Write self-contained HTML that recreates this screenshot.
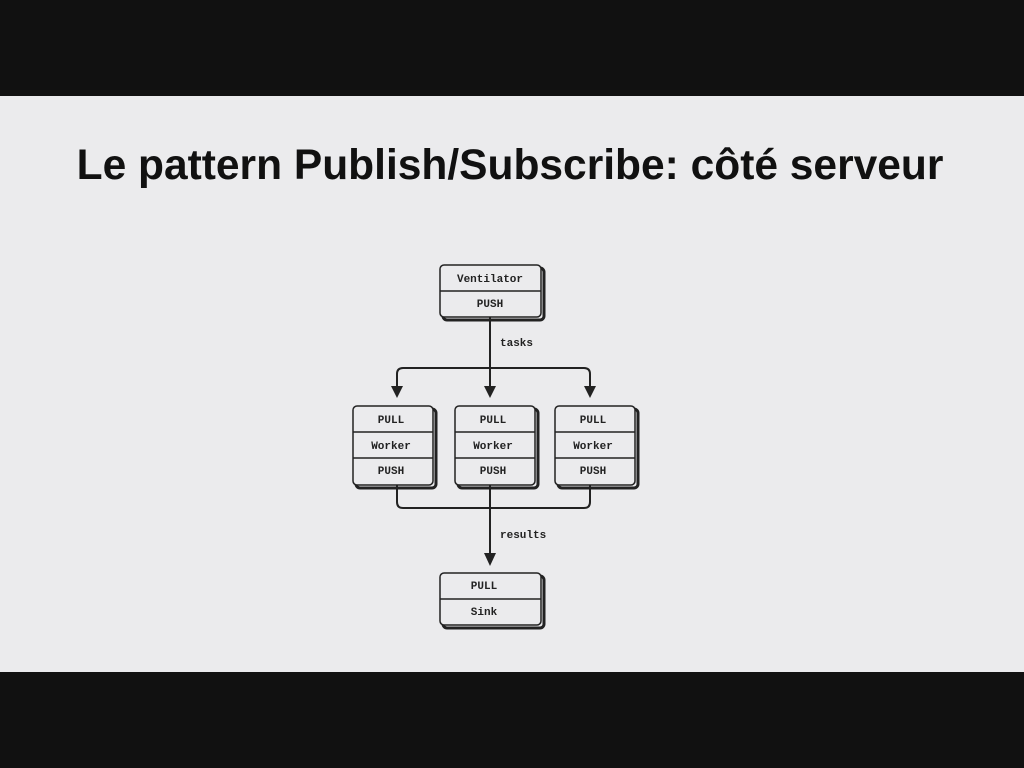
<!DOCTYPE html>
<html><head><meta charset="utf-8"><style>
body{margin:0;width:1024px;height:768px;background:#111;position:relative;overflow:hidden}
.slide{position:absolute;left:0;top:96px;width:1024px;height:576px;background:#ebebed}
.t{position:absolute;left:0;width:1024px;top:142px;text-align:center;font:bold 42.5px "Liberation Sans",sans-serif;color:#111}
svg{position:absolute;left:0;top:0}
</style></head><body>
<div class="slide"></div>
<div class="t" style="left:-2px">Le pattern Publish/Subscribe: côté serveur</div>
<svg width="1024" height="768" font-family="Liberation Mono, monospace" font-size="11" font-weight="bold" fill="#222">
<g stroke="#222" fill="none" stroke-width="2">
<rect x="443" y="268" width="101" height="52" rx="4" stroke-width="3"/>
<rect x="356" y="409" width="80" height="79" rx="4" stroke-width="3"/>
<rect x="458" y="409" width="80" height="79" rx="4" stroke-width="3"/>
<rect x="558" y="409" width="80" height="79" rx="4" stroke-width="3"/>
<rect x="443" y="576" width="101" height="52" rx="4" stroke-width="3"/>
</g>
<g stroke="#222" fill="#ebebed" stroke-width="1.5">
<rect x="440" y="265" width="101" height="52" rx="4"/>
<rect x="353" y="406" width="80" height="79" rx="4"/>
<rect x="455" y="406" width="80" height="79" rx="4"/>
<rect x="555" y="406" width="80" height="79" rx="4"/>
<rect x="440" y="573" width="101" height="52" rx="4"/>
<line x1="440" y1="291" x2="541" y2="291"/>
<line x1="440" y1="599" x2="541" y2="599"/>
<line x1="353" y1="432" x2="433" y2="432"/><line x1="353" y1="458" x2="433" y2="458"/>
<line x1="455" y1="432" x2="535" y2="432"/><line x1="455" y1="458" x2="535" y2="458"/>
<line x1="555" y1="432" x2="635" y2="432"/><line x1="555" y1="458" x2="635" y2="458"/>
</g>
<g stroke="#222" fill="none" stroke-width="2">
<path d="M490 317 V388"/>
<path d="M397 388 V374 Q397 368 403 368 H584 Q590 368 590 374 V388"/>
<path d="M397 485 V502 Q397 508 403 508 H584 Q590 508 590 502 V485"/>
<path d="M490 485 V555"/>
</g>
<g fill="#222">
<path d="M391 386 L403 386 L397 398Z"/>
<path d="M484 386 L496 386 L490 398Z"/>
<path d="M584 386 L596 386 L590 398Z"/>
<path d="M484 553 L496 553 L490 566Z"/>
</g>
<g text-anchor="middle">
<text x="490" y="282">Ventilator</text>
<text x="490" y="307">PUSH</text>
<text x="391" y="423">PULL</text><text x="391" y="449">Worker</text><text x="391" y="474">PUSH</text>
<text x="493" y="423">PULL</text><text x="493" y="449">Worker</text><text x="493" y="474">PUSH</text>
<text x="593" y="423">PULL</text><text x="593" y="449">Worker</text><text x="593" y="474">PUSH</text>
<text x="484" y="589">PULL</text>
<text x="484" y="615">Sink</text>
</g>
<text x="500" y="346">tasks</text>
<text x="500" y="538">results</text>
</svg>
</body></html>
